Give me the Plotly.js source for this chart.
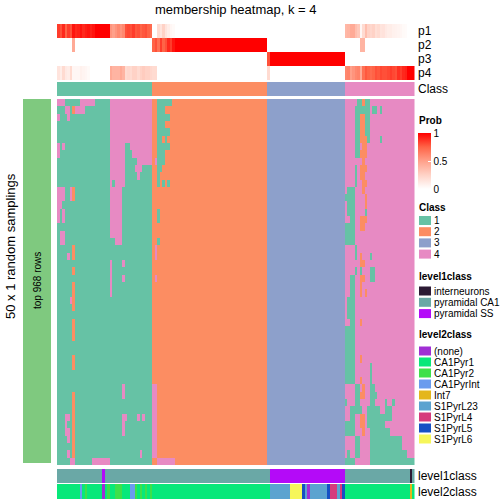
<!DOCTYPE html>
<html><head><meta charset="utf-8">
<script src="https://cdn.plot.ly/plotly-3.0.1.min.js"></script>
<style>html,body{margin:0;padding:0;background:#fff}#chart{width:504px;height:504px}</style>
</head><body><div id="chart"></div>
<script>
// ---------------- data ----------------
const nRows = 50;                      // random samplings
const classNames = ['1','2','3','4'];
const classColors = ['#66C2A5','#FC8D62','#8DA0CB','#E78AC3'];
const classRuns = [[1,38],[2,46],[3,31],[4,28]];   // predicted class per sample (run-length)

// membership probabilities, written per class block (38 | 46 | 31 | 28 samples)
const p1 = [
 0.85,0.8,0.9,0.75,0.85,0.8,0.95, 0.9,0.92,0.95,0.9,0.93,0.95,0.92,0.95, 1,1,1,1,1,1,
 0.55,0.5,0.55,0.6,0.55,0.6, 0.8,0.82,0.8,0.85,0.78,0.8,0.75,0.78,0.8,0.75,0.72,
 0,0,0.2,0.15,0.25,0.15,0.1,0.05,0.03,
 0,0,0,0,0,0,0,0,0,0, 0,0,0,0,0,0,0,0,0,0, 0,0,0,0,0,0,0,0,0,0, 0,0,0,0,0,0,0,
 0,0,0,0,0,0,0,0,0,0, 0,0,0,0,0,0,0,0,0,0, 0,0,0,0,0,0,0,0,0,0, 0,
 0.38,0.4,0.45,0.45,0.35,0.3,0.05,0.2,0.35,0.25, 0.22,0.25,0.18,0.2,0.15,0.16,0.12,0.1,0.1,0.08,
 0.07,0.06,0.05,0.03,0.02,0,0,0];
const p2 = [
 0,0,0,0,0,0,0.45, 0,0,0,0,0,0,0,0,0,0, 0,0,0,0,0,0,0,0,0,0, 0,0,0,0,0,0,0,0,0,0, 0,
 0.75,0.8,0.7,0.85,0.75,0.8,0.9,0.85,0.95,
 1,1,1,1,1,1,1,1,1,1, 1,1,1,1,1,1,1,1,1,1, 1,1,1,1,1,1,1,1,1,1, 1,1,1,1,1,1,1,
 0,0,0,0,0,0,0,0,0,0, 0,0,0,0,0,0,0,0,0,0, 0,0,0,0,0,0,0,0,0,0, 0,
 0,0,0,0,0,0,0.4,0.4, 0,0,0,0,0,0,0,0,0,0, 0,0,0,0,0,0,0,0,0,0];
const p3 = [
 0,0,0,0,0,0,0,0,0,0, 0,0,0,0,0,0,0,0,0,0, 0,0,0,0,0,0,0,0,0,0, 0,0,0,0,0,0,0,0,
 0,0,0,0,0,0,0,0,0,0, 0,0,0,0,0,0,0,0,0,0, 0,0,0,0,0,0,0,0,0,0, 0,0,0,0,0,0,0,0,0,0, 0,0,0,0,0,0,
 0.8, 1,1,1,1,1,1,1,1,1,1, 1,1,1,1,1,1,1,1,1,1, 1,1,1,1,1,1,1,1,1,1,
 0,0,0,0,0,0,0,0,0,0, 0,0,0,0,0,0,0,0,0,0, 0,0,0,0,0,0,0,0];
const p4 = [
 0.15,0.1,0.2,0.12,0.1,0.2,0.05,0.05,0.05,0.08,0.06,0.05,0.03, 0,0,0,0,0,0,0,0,
 0.45,0.4,0.4,0.4,0.45,0.4, 0.2,0.22,0.2,0.25,0.25,0.2,0.25,0.28,0.25,0.25,0.22,
 0.2,0.2, 0,0,0,0,0,0,0,0,0,0, 0,0,0,0,0,0,0,0,0,0, 0,0,0,0,0,0,0,0,0,0, 0,0,0,0,0,0,0,0,0,0, 0,0,0,0,
 0.2, 0,0,0,0,0,0,0,0,0,0, 0,0,0,0,0,0,0,0,0,0, 0,0,0,0,0,0,0,0,0,0,
 0.6,0.62,0.5,0.55,0.6,0.62,0.45,0.7,0.78,0.75, 0.72,0.75,0.8,0.78,0.82,0.8,0.8,0.82,0.85,0.82,
 0.8,0.88,0.85,0.9,0.92,1,1,1];

const level1Names = ['interneurons','pyramidal CA1','pyramidal SS'];
const level1Colors = ['#2C1A34','#6AA8A6','#B40AF8'];
const level1Runs = [['pyramidal CA1',18],['pyramidal SS',1],['pyramidal CA1',66],['pyramidal SS',30],
 ['pyramidal CA1',26],['interneurons',1],['pyramidal CA1',1]];

const level2Names = ['(none)','CA1Pyr1','CA1Pyr2','CA1PyrInt','Int7','S1PyrL23','S1PyrL4','S1PyrL5','S1PyrL6'];
const level2Colors = ['#A02FD4','#08E87A','#3EE04A','#6A9BEE','#E4B61C','#5BA3D0','#D63B7C','#1650C4','#F6F65A'];
const level2Runs = [['CA1Pyr1',9],['CA1PyrInt',1],['CA1Pyr1',1],['CA1Pyr2',1],['CA1Pyr1',6],['(none)',1],
 ['CA1Pyr1',1],['CA1Pyr2',1],['CA1Pyr1',2],['CA1Pyr2',3],['CA1Pyr1',3],['CA1PyrInt',2],['CA1Pyr2',1],
 ['CA1Pyr1',1],['CA1Pyr2',1],['CA1Pyr1',1],['CA1Pyr2',1],['CA1Pyr1',1],['CA1Pyr2',1],['CA1Pyr1',47],
 ['S1PyrL23',8],['S1PyrL6',5],['S1PyrL5',1],['S1PyrL23',1],['(none)',1],['S1PyrL23',7],['S1PyrL5',1],
 ['S1PyrL4',3],['S1PyrL23',1],['S1PyrL4',1],['S1PyrL5',1],['CA1Pyr1',26],['Int7',1],['CA1Pyr1',1]];

// membership in each sampling that differs from the final class: [rowFrom,rowTo,colFrom,colTo,class]
const deviations = [
 [0,0,0,2,4],[0,0,9,14,4],[0,5,21,37,4],[1,1,3,4,4],[1,1,6,6,2],[1,1,7,10,4],[2,2,0,0,4],[2,2,4,4,4],
 [6,7,0,0,4],[6,6,2,2,4],[6,10,21,26,4],[6,6,29,37,4],[7,7,30,37,4],[8,8,32,37,4],[9,9,31,33,4],[10,10,32,32,4],
 [11,11,21,21,4],[11,11,23,26,4],[12,18,21,25,4],[19,19,23,25,4],[12,13,0,2,4],[12,13,5,5,4],[12,13,6,6,2],
 [14,14,0,1,4],[15,16,0,0,4],[15,16,2,2,4],[18,19,1,2,4],[20,21,6,6,2],[21,21,4,4,4],[22,26,21,21,4],
 [22,22,26,26,4],[23,23,6,6,2],[24,24,26,26,4],[25,28,6,6,2],[27,27,5,5,4],[30,32,6,6,2],[35,36,6,6,2],
 [39,40,26,26,4],[40,48,6,6,2],[43,43,3,4,4],[43,43,26,27,4],[43,43,32,32,4],[43,43,34,34,4],[44,44,3,3,4],
 [44,45,26,26,4],[45,45,3,4,4],[46,46,4,4,4],[48,48,4,4,4],[48,48,33,33,4],[49,49,5,6,4],[49,49,14,20,4],
 [0,0,40,45,1],[1,1,40,42,1],[2,2,40,44,1],[3,3,40,42,1],[4,4,40,44,1],[5,5,40,41,1],[5,5,43,43,1],
 [6,6,40,44,1],[7,7,40,42,1],[8,8,39,39,4],[8,8,40,42,1],[9,9,40,41,1],[10,11,40,40,1],[11,11,42,42,1],
 [11,11,44,44,1],[15,16,40,40,1],[19,19,40,40,1],[20,21,39,39,4],[24,24,39,39,4],[39,48,38,39,4],[49,49,40,46,4],
 [0,0,120,121,1],[0,0,122,122,2],[0,0,123,124,1],[1,1,119,124,1],[1,1,126,127,1],[1,1,129,129,1],
 [2,4,119,120,1],[2,4,121,122,2],[2,4,123,124,1],[5,5,119,120,1],[5,5,121,123,2],[5,5,124,124,1],[5,5,129,129,1],
 [6,6,119,120,1],[6,6,122,123,2],[7,7,119,120,1],[7,7,121,123,2],[8,8,122,122,2],[9,9,119,119,1],[9,9,121,123,2],
 [10,10,119,119,1],[10,10,121,122,2],[11,11,119,119,1],[11,11,122,123,2],[12,12,116,118,1],[12,12,122,122,2],
 [13,13,115,118,1],[13,13,123,123,2],[14,14,116,118,1],[14,14,123,123,2],[15,15,116,118,1],[15,15,123,123,1],
 [16,16,117,118,1],[16,16,121,123,2],[17,17,115,118,1],[17,17,121,122,2],[18,19,115,118,1],[20,20,119,119,1],
 [21,21,119,119,1],[21,21,121,121,2],[21,21,125,125,1],[22,22,121,122,2],[23,23,119,119,1],[23,23,121,121,1],
 [23,23,125,126,1],[24,24,117,118,1],[24,24,121,122,2],[24,24,125,126,1],[25,25,117,118,1],[25,25,121,121,2],
 [26,26,117,118,1],[26,26,121,121,2],[26,26,123,123,2],[27,29,116,118,1],[30,30,117,118,1],[30,30,121,121,2],
 [31,38,115,118,1],[35,35,121,121,2],[38,38,121,121,2],[36,38,125,125,1],[39,39,119,120,1],[39,39,122,122,2],
 [39,39,125,126,1],[40,40,119,120,1],[40,40,121,122,2],[40,40,125,127,1],[41,41,115,115,1],[41,41,119,120,1],
 [41,41,125,126,1],[41,41,131,131,1],[41,41,134,134,1],[42,42,117,121,1],[42,42,124,128,1],[42,42,131,133,1],
 [43,43,117,118,1],[43,43,121,122,2],[43,43,124,133,1],[44,44,115,118,1],[44,44,121,122,2],[44,44,124,130,1],
 [45,45,115,118,1],[45,45,122,122,2],[45,45,125,132,1],[46,47,119,120,1],[46,47,125,137,1],[48,48,116,116,1],
 [48,48,119,120,1],[48,48,125,139,1],[49,49,115,118,1],[49,49,125,142,1]
];

// ---------------- build ----------------
const W = 504, H = 504;
const FONT = 'Liberation Sans, Arial, Helvetica, sans-serif';
const expand = runs => { const out = []; runs.forEach(([v,n]) => { for (let i = 0; i < n; i++) out.push(v); }); return out; };
const classByCol = expand(classRuns);
const nCols = classByCol.length;
const zMain = [];
for (let r = 0; r < nRows; r++) zMain.push(classByCol.slice());
deviations.forEach(([r0,r1,c0,c1,k]) => { for (let r = r0; r <= r1; r++) for (let c = c0; c <= c1; c++) zMain[r][c] = k; });
const lvl1 = expand(level1Runs).map(n => level1Names.indexOf(n));
const lvl2 = expand(level2Runs).map(n => level2Names.indexOf(n));

function discrete(colors) { const n = colors.length, s = []; colors.forEach((c,i) => { s.push([i/n,c]); s.push([(i+1)/n,c]); }); return s; }
const probScale = [[0,'#FFFFFF'],[0.25,'#FFD2C6'],[0.5,'#FFA08A'],[0.75,'#FF6447'],[1,'#FF0000']];
const dom = (top, bot) => [1 - bot/H, 1 - top/H];

const tracks = [
 {z:[p1], top:24, bot:38, cs:probScale, zmin:0, zmax:1, bar:true},
 {z:[p2], top:38, bot:52, cs:probScale, zmin:0, zmax:1},
 {z:[p3], top:52, bot:66, cs:probScale, zmin:0, zmax:1},
 {z:[p4], top:66, bot:80, cs:probScale, zmin:0, zmax:1},
 {z:[classByCol], top:82, bot:96, cs:discrete(classColors), zmin:0.5, zmax:4.5},
 {z:zMain, top:99, bot:465, cs:discrete(classColors), zmin:0.5, zmax:4.5, main:true},
 {z:[lvl1], top:469, bot:483, cs:discrete(level1Colors), zmin:-0.5, zmax:level1Colors.length-0.5},
 {z:[lvl2], top:484, bot:499, cs:discrete(level2Colors), zmin:-0.5, zmax:level2Colors.length-0.5}
];
const data = [];
const layout = {
 width: W, height: H, margin: {l:0, r:0, t:0, b:0}, paper_bgcolor:'#fff', plot_bgcolor:'#fff',
 showlegend:false, font:{family:FONT, color:'#000'},
 xaxis: {domain:[57/W, 414.5/W], range:[-0.5, nCols-0.5], visible:false, fixedrange:true},
 annotations: [], shapes: []
};
tracks.forEach((t,i) => {
 const ya = i === 0 ? 'y' : 'y' + (i+1);
 const key = i === 0 ? 'yaxis' : 'yaxis' + (i+1);
 layout[key] = {domain: dom(t.top, t.bot), visible:false, fixedrange:true,
   range: t.main ? [nRows-0.5, -0.5] : [-0.5, 0.5]};
 const tr = {type:'heatmap', z:t.z, xaxis:'x', yaxis:ya, colorscale:t.cs, zmin:t.zmin, zmax:t.zmax,
   showscale: !!t.bar, hoverinfo:'skip'};
 if (t.bar) tr.colorbar = {x:418/W, xanchor:'left', y:1-161/H, yanchor:'middle', len:56/H, lenmode:'fraction',
   thickness:13, thicknessmode:'pixels', outlinewidth:0, xpad:0, ypad:0,
   tickvals:[0,0.5,1], ticktext:['0','0.5','1'], ticks:'inside', ticklen:3, tickcolor:'#fff',
   tickfont:{size:10, family:FONT, color:'#000'}};
 data.push(tr);
});

const ann = (x, y, text, o = {}) => layout.annotations.push(Object.assign({
 xref:'paper', yref:'paper', x:x/W, y:1-y/H, text, showarrow:false, xanchor:'left', yanchor:'middle',
 font:{size:10, family:FONT, color:'#000'}}, o));
const rect = (x0, y0, x1, y1, color) => layout.shapes.push({type:'rect', xref:'paper', yref:'paper',
 x0:x0/W, x1:x1/W, y0:1-y1/H, y1:1-y0/H, fillcolor:color, line:{width:0}});

// title and side labels
ann(235.5, 9, 'membership heatmap, k = 4', {xanchor:'center', font:{size:13, family:FONT, color:'#000'}});
[['p1',31],['p2',45],['p3',59],['p4',73],['Class',89],['level1class',476],['level2class',491.5]]
 .forEach(([t,y]) => ann(416, y, t, {font:{size:12, family:FONT, color:'#000'}}));
// row titles
rect(23, 99, 51, 463, '#7FC97F');
ann(37, 281, 'top 968 rows', {xanchor:'center', textangle:-90, font:{size:10, family:FONT, color:'#000'}});
ann(10, 246, '50 x 1 random samplings', {xanchor:'center', textangle:-90, font:{size:13, family:FONT, color:'#000'}});

// legends
ann(417, 120.5, '<b>Prob</b>');
function legend(title, titleY, names, colors, firstY, step) {
 ann(417, titleY, '<b>' + title + '</b>');
 names.forEach((n,i) => { const cy = firstY + i*step; rect(419, cy-4.5, 431, cy+4.5, colors[i]); ann(432, cy, n); });
}
legend('Class', 207, classNames, classColors, 220.5, 11.2);
legend('level1class', 276, level1Names, level1Colors, 291, 11.3);
legend('level2class', 334, level2Names, level2Colors, 351, 11);

Plotly.newPlot('chart', data, layout, {displayModeBar:false, staticPlot:true});
</script></body></html>
